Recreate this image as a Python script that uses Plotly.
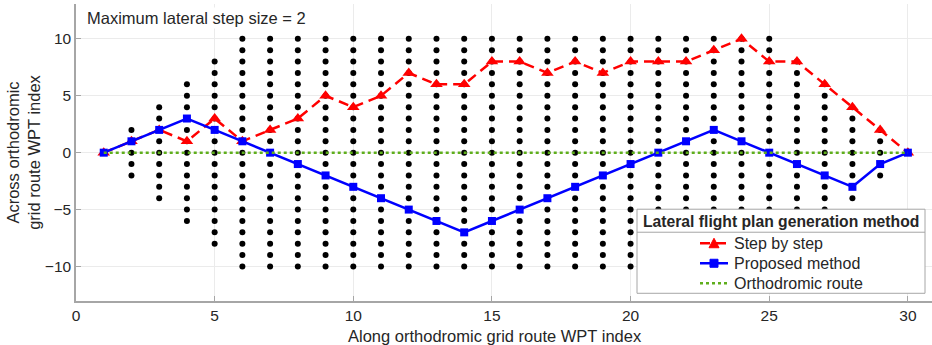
import plotly.graph_objects as go

wpt = list(range(1, 31))
grid_halfwidth = [0, 2, 4, 6, 8, 10, 10, 10, 10, 10, 10, 10, 10, 10, 10,
                  10, 10, 10, 10, 10, 10, 10, 10, 10, 10, 8, 6, 4, 2, 0]
step_by_step = [0, 1, 2, 1, 3, 1, 2, 3, 5, 4, 5, 7, 6, 6, 8,
                8, 7, 8, 7, 8, 8, 8, 9, 10, 8, 8, 6, 4, 2, 0]
proposed = [0, 1, 2, 3, 2, 1, 0, -1, -2, -3, -4, -5, -6, -7, -6,
            -5, -4, -3, -2, -1, 0, 1, 2, 1, 0, -1, -2, -3, -1, 0]
orthodromic = [0] * 30

x_ticks = [0, 5, 10, 15, 20, 25, 30]
y_ticks = [-10, -5, 0, 5, 10]

series_names = ["Step by step", "Proposed method", "Orthodromic route"]
legend_title = "Lateral flight plan generation method"

dx, dy = [], []
for x, h in zip(wpt, grid_halfwidth):
    for v in range(-h, h + 1):
        dx.append(x)
        dy.append(v)

FONT = "Liberation Sans, Arial, sans-serif"
TXT = "#262626"
RED, BLUE, GREEN = "#ff0000", "#0000ff", "#5fae1c"
RED_DASH = "10px,6px"
L, T, B = 76, 4, 300.7
PW, PH = 932 - L, B - T


def px(xp):
    return (xp - L) / PW


def py(yp):
    return (B - yp) / PH


fig = go.Figure()
fig.add_trace(go.Scatter(x=dx, y=dy, mode="markers", showlegend=False,
                         marker=dict(color="black", size=6), hoverinfo="skip"))
fig.add_trace(go.Scatter(x=wpt, y=step_by_step, mode="lines+markers", name=series_names[0],
                         showlegend=False,
                         line=dict(color=RED, width=2.5, dash=RED_DASH),
                         marker=dict(symbol="triangle-up", size=11, color=RED)))
fig.add_trace(go.Scatter(x=wpt, y=proposed, mode="lines+markers", name=series_names[1],
                         showlegend=False,
                         line=dict(color=BLUE, width=2.5),
                         marker=dict(symbol="square", size=8, color=BLUE)))
fig.add_trace(go.Scatter(x=wpt, y=orthodromic, mode="lines", name=series_names[2],
                         showlegend=False,
                         line=dict(color=GREEN, width=2.5, dash="dot")))

axis_common = dict(showgrid=True, gridcolor="#ebebeb", gridwidth=1, zeroline=False,
                   showline=True, linecolor="#a6a6a6", linewidth=1.5,
                   ticks="inside", ticklen=5, tickcolor="#a6a6a6",
                   tickfont=dict(family=FONT, size=15.5, color=TXT))

fig.update_layout(
    width=932, height=345,
    margin=dict(l=L, r=0, t=T, b=345 - B),
    plot_bgcolor="white", paper_bgcolor="white",
    xaxis=dict(range=[0, 30.87], tickvals=x_ticks, **axis_common),
    yaxis=dict(range=[-13.03, 13.06], tickvals=y_ticks, **axis_common,
               title=dict(text="Across orthodromic<br>grid route WPT index",
                          font=dict(family=FONT, size=16.5, color=TXT), standoff=0)),
    showlegend=False,
)

fig.add_annotation(text="Along orthodromic grid route WPT index", xref="paper", yref="paper",
                   x=px(495), y=py(336), xanchor="center", yanchor="middle",
                   showarrow=False, font=dict(family=FONT, size=16.5, color=TXT))
fig.add_annotation(text="Maximum lateral step size = 2", xref="paper", yref="paper",
                   x=px(85), y=py(18), xanchor="left", yanchor="middle",
                   showarrow=False, bgcolor="white",
                   font=dict(family=FONT, size=16.5, color=TXT))

# ---- manual legend box (MATLAB style with titled header) ----
bx0, bx1, by0, by1 = 637, 925, 209, 293
fig.add_shape(type="rect", xref="paper", yref="paper",
              x0=px(bx0), x1=px(bx1), y0=py(by1), y1=py(by0),
              line=dict(color="#a6a6a6", width=1), fillcolor="white", layer="above")
fig.add_shape(type="line", xref="paper", yref="paper",
              x0=px(bx0), x1=px(bx1), y0=py(232), y1=py(232),
              line=dict(color="#a6a6a6", width=1), layer="above")
fig.add_annotation(text="<b>" + legend_title + "</b>", xref="paper", yref="paper",
                   x=px((bx0 + bx1) / 2), y=py(221), xanchor="center", yanchor="middle",
                   showarrow=False, font=dict(family=FONT, size=15.7, color=TXT))

item_y = [243, 263, 283]
sx0, sx1, sxm = 700, 728, 714
styles = [(RED, RED_DASH), (BLUE, "solid"), (GREEN, "dot")]
for name, yy, (col, dash) in zip(series_names, item_y, styles):
    fig.add_shape(type="line", xref="paper", yref="paper",
                  x0=px(sx0), x1=px(sx1), y0=py(yy), y1=py(yy),
                  line=dict(color=col, width=2.5, dash=dash), layer="above")
    fig.add_annotation(text=name, xref="paper", yref="paper",
                       x=px(732), y=py(yy), xanchor="left", yanchor="middle",
                       showarrow=False, font=dict(family=FONT, size=16, color=TXT))

# legend glyph markers
ty = item_y[0]
tri = "M {} {} L {} {} L {} {} Z".format(px(sxm - 5), py(ty + 4.5),
                                         px(sxm + 5), py(ty + 4.5),
                                         px(sxm), py(ty - 5))
fig.add_shape(type="path", xref="paper", yref="paper", path=tri,
              fillcolor=RED, line=dict(color=RED, width=1), layer="above")
fig.add_shape(type="rect", xref="paper", yref="paper",
              x0=px(sxm - 4), x1=px(sxm + 4), y0=py(item_y[1] + 4), y1=py(item_y[1] - 4),
              fillcolor=BLUE, line=dict(color=BLUE, width=1), layer="above")

fig.write_html("out.html")
